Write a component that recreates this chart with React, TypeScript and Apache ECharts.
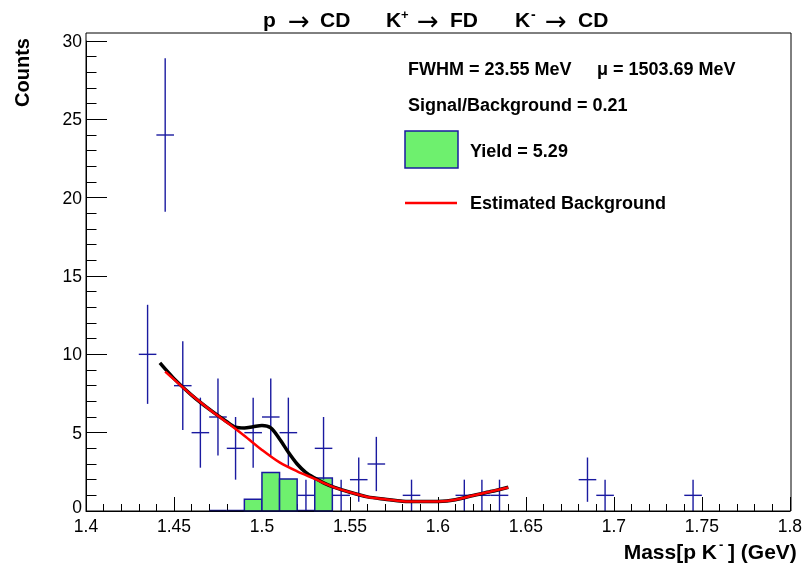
import React, { useEffect, useRef } from "react";
import * as echarts from "echarts";

// Data histogram (bin width 0.01 GeV)
const binCenters = [1.435, 1.445, 1.455, 1.465, 1.475, 1.485, 1.495, 1.505, 1.515, 1.525, 1.535, 1.545, 1.555, 1.565, 1.585, 1.615, 1.625, 1.635, 1.685, 1.695, 1.745];
const counts = [10, 24, 8, 5, 6, 4, 5, 6, 5, 1, 4, 1, 2, 3, 1, 1, 1, 1, 2, 1, 1];
const binWidth = 0.01;

// Signal (green) histogram: left bin edges and values
const sigEdges = [1.47, 1.48, 1.49, 1.5, 1.51, 1.52, 1.53];
const sigValues = [0, 0, 0.75, 2.45, 2.05, 0, 2.1];

// Estimated background (red)
const bgX = [1.445, 1.45, 1.46, 1.47, 1.48, 1.49, 1.5, 1.51, 1.52, 1.53, 1.54, 1.55, 1.56, 1.57, 1.58, 1.59, 1.6, 1.61, 1.62, 1.63, 1.64];
const bgY = [8.9, 8.4, 7.4, 6.5, 5.66, 4.8, 3.9, 3.1, 2.53, 2.05, 1.56, 1.2, 0.9, 0.75, 0.62, 0.6, 0.61, 0.72, 0.99, 1.24, 1.5];

// Total fit (black)
const totX = [1.442, 1.45, 1.46, 1.47, 1.48, 1.485, 1.49, 1.495, 1.5, 1.505, 1.51, 1.515, 1.52, 1.525, 1.53, 1.535, 1.54, 1.55, 1.56, 1.57, 1.58, 1.59, 1.6, 1.61, 1.62, 1.63, 1.64];
const totY = [9.45, 8.45, 7.4, 6.5, 5.7, 5.35, 5.3, 5.38, 5.45, 5.3, 4.6, 3.75, 3.0, 2.45, 2.1, 1.8, 1.56, 1.2, 0.9, 0.75, 0.62, 0.6, 0.61, 0.72, 0.99, 1.24, 1.52];

const xMin = 1.4;
const xMax = 1.8;
const xStep = 0.05;
const yMin = 0;
const yMax = 30;
const yStep = 5;

const BLUE = "#1a1aa0";
const GREEN = "#6ef06e";
const FONT = "Liberation Sans";

export default function App() {
  const ref = useRef<HTMLDivElement>(null);
  useEffect(() => {
    if (!ref.current) return;
    const chart = echarts.init(ref.current, undefined, { renderer: "svg" });

    const boldText = (text: string, x: number, y: number, size: number, extra: any = {}) => ({
      type: "text",
      x,
      y,
      silent: true,
      z: 100,
      ...extra,
      style: {
        text,
        fill: "#000",
        fontFamily: FONT,
        fontWeight: "bold",
        fontSize: size,
        align: "left",
        verticalAlign: "middle",
        ...(extra.style || {}),
      },
    });
    const arrow = (x: number, y: number) => ({
      type: "text",
      x,
      y,
      silent: true,
      z: 100,
      style: { text: "→", fill: "#000", fontFamily: "DejaVu Sans", fontSize: 26, fontWeight: "normal", align: "left", verticalAlign: "middle" },
    });

    const option: any = {
      animation: false,
      grid: { left: 86, right: 14, top: 41, bottom: 52, show: false },
      xAxis: {
        type: "value",
        min: xMin,
        max: xMax,
        interval: xStep,
        axisLine: { show: true, lineStyle: { color: "#000", width: 1 } },
        axisTick: { show: true, inside: true, length: 14, lineStyle: { color: "#000" } },
        minorTick: { show: true, splitNumber: 5, length: 7, lineStyle: { color: "#000" } },
        splitLine: { show: false },
        axisLabel: { fontFamily: FONT, fontSize: 17.5, lineHeight: 14, color: "#000", margin: 8 },
      },
      yAxis: {
        type: "value",
        min: yMin,
        max: yMax,
        interval: yStep,
        axisLine: { show: true, lineStyle: { color: "#000", width: 1 } },
        axisTick: { show: true, inside: true, length: 21, lineStyle: { color: "#000" } },
        minorTick: { show: true, splitNumber: 5, length: 10.5, lineStyle: { color: "#000" } },
        splitLine: { show: false },
        axisLabel: {
          fontFamily: FONT,
          fontSize: 17.5,
          lineHeight: 14,
          color: "#000",
          margin: 4,
          formatter: (v: number) => (v === 0 ? "{z|0}" : String(v)),
          rich: { z: { fontFamily: FONT, fontSize: 17.5, lineHeight: 14, color: "#000", padding: [0, 0, 8, 0] } },
        },
      },
      series: [
        {
          type: "custom",
          name: "signal",
          data: sigEdges.map((e, i) => [e, e + binWidth, sigValues[i]]),
          encode: { x: [0, 1], y: 2 },
          renderItem: (params: any, api: any) => {
            const x0 = api.value(0);
            const x1 = api.value(1);
            const v = api.value(2);
            const p0 = api.coord([x0, 0]);
            const p1 = api.coord([x1, v]);
            if (v > 0) {
              return {
                type: "rect",
                shape: { x: p0[0], y: p1[1], width: p1[0] - p0[0], height: p0[1] - p1[1] },
                style: { fill: GREEN, stroke: BLUE, lineWidth: 1.5 },
              };
            }
            return {
              type: "line",
              shape: { x1: p0[0], y1: p0[1] - 0.5, x2: p1[0], y2: p0[1] - 0.5 },
              style: { stroke: BLUE, lineWidth: 1.5 },
            };
          },
          z: 2,
        },
        {
          type: "custom",
          name: "data",
          data: binCenters.map((x, i) => [x, counts[i], Math.sqrt(counts[i])]),
          encode: { x: 0, y: 1 },
          renderItem: (params: any, api: any) => {
            const x = api.value(0);
            const y = api.value(1);
            const e = api.value(2);
            const c = api.coord([x, y]);
            const lo = api.coord([x, y - e]);
            const hi = api.coord([x, y + e]);
            const l = api.coord([x - binWidth / 2, y]);
            const r = api.coord([x + binWidth / 2, y]);
            return {
              type: "group",
              children: [
                { type: "line", shape: { x1: c[0], y1: lo[1], x2: c[0], y2: hi[1] }, style: { stroke: BLUE, lineWidth: 1.4 } },
                { type: "line", shape: { x1: l[0], y1: c[1], x2: r[0], y2: c[1] }, style: { stroke: BLUE, lineWidth: 1.4 } },
              ],
            };
          },
          z: 3,
        },
        {
          type: "line",
          name: "total",
          data: totX.map((x, i) => [x, totY[i]]),
          showSymbol: false,
          smooth: 0.3,
          lineStyle: { color: "#000", width: 3.5 },
          z: 4,
        },
        {
          type: "line",
          name: "background",
          data: bgX.map((x, i) => [x, bgY[i]]),
          showSymbol: false,
          smooth: 0.3,
          lineStyle: { color: "#ff0000", width: 2.5 },
          z: 5,
        },
      ],
      graphic: [
        { type: "rect", silent: true, z: 90, shape: { x: 86, y: 33, width: 705, height: 478 }, style: { fill: "none", stroke: "#000", lineWidth: 1 } },
        // title
        boldText("p", 263, 19, 21),
        arrow(288, 21),
        boldText("CD", 320, 19, 21),
        boldText("K", 386, 19, 21),
        boldText("+", 401, 14, 13),
        arrow(417, 21),
        boldText("FD", 450, 19, 21),
        boldText("K", 515, 19, 21),
        boldText("-", 531, 14, 14),
        arrow(545, 21),
        boldText("CD", 578, 19, 21),
        // fit info
        boldText("FWHM = 23.55 MeV", 408, 69, 18),
        boldText("μ = 1503.69 MeV", 597, 69, 18),
        boldText("Signal/Background = 0.21", 408, 105, 18),
        { type: "rect", silent: true, z: 100, shape: { x: 405, y: 131, width: 53, height: 37 }, style: { fill: GREEN, stroke: BLUE, lineWidth: 1.5 } },
        boldText("Yield = 5.29", 470, 151, 18),
        { type: "line", silent: true, z: 100, shape: { x1: 405, y1: 203, x2: 457, y2: 203 }, style: { stroke: "#ff0000", lineWidth: 2.5 } },
        boldText("Estimated Background", 470, 203, 18),
        // axis titles
        boldText("Counts", 22, 38, 20, { rotation: Math.PI / 2, style: { align: "right" } }),
        boldText("Mass[p K", 717, 551, 21, { style: { align: "right" } }),
        boldText("-", 719, 544, 13),
        boldText("] (GeV)", 728, 551, 21),
      ],
    };
    chart.setOption(option);
    return () => chart.dispose();
  }, []);
  return <div ref={ref} style={{ position: "fixed", left: 0, top: 0, width: 805, height: 563 }} />;
}
